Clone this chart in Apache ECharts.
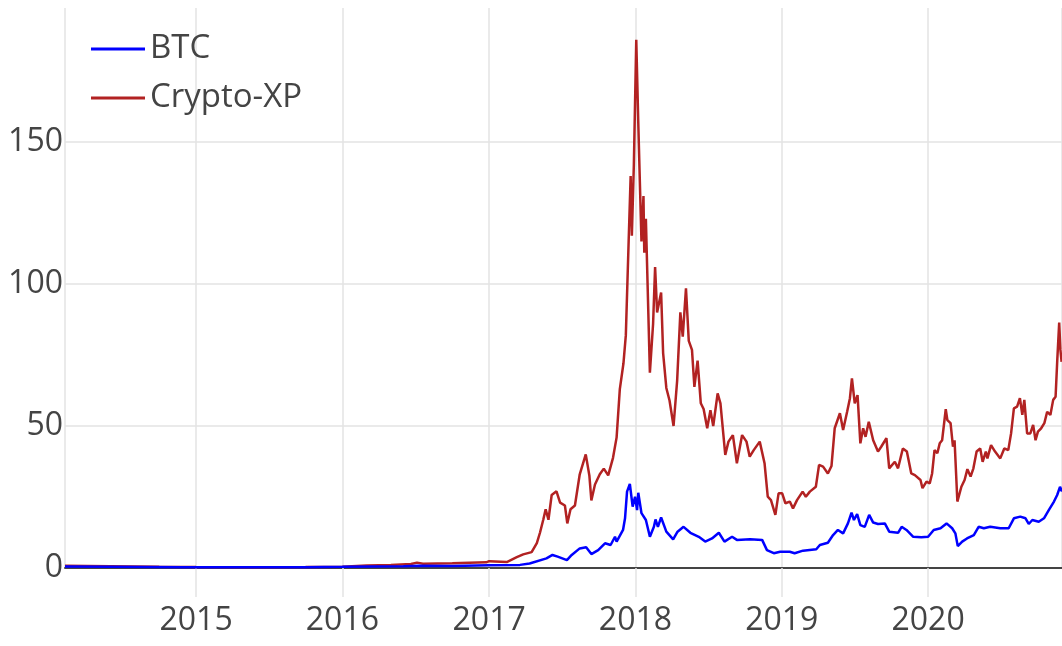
<!DOCTYPE html>
<html>
<head>
<meta charset="utf-8">
<script src="https://cdn.jsdelivr.net/npm/echarts@6/dist/echarts.min.js"></script>
<style>
  html, body { margin: 0; padding: 0; background: #fff; }
  #chart { width: 1062px; height: 646px; }
</style>
</head>
<body>
<div id="chart"></div>
<script>
// BTC price, scaled units
var btcDates = [
  '2014-02-08', '2014-06-01', '2014-12-01', '2015-06-01', '2015-10-01', '2016-01-01',
  '2016-06-01', '2016-07-10', '2016-10-01', '2017-01-01', '2017-03-19', '2017-04-12',
  '2017-05-24', '2017-06-08', '2017-06-21', '2017-07-14', '2017-07-26', '2017-08-15',
  '2017-08-31', '2017-09-13', '2017-09-30', '2017-10-17', '2017-10-31', '2017-11-11',
  '2017-11-15', '2017-12-01', '2017-12-06', '2017-12-11', '2017-12-18', '2017-12-25',
  '2017-12-31', '2018-01-05', '2018-01-08', '2018-01-16', '2018-01-27', '2018-02-06',
  '2018-02-16', '2018-02-20', '2018-02-26', '2018-03-06', '2018-03-19', '2018-04-05',
  '2018-04-16', '2018-05-01', '2018-05-18', '2018-06-08', '2018-06-24', '2018-07-11',
  '2018-07-28', '2018-08-11', '2018-08-30', '2018-09-11', '2018-10-14', '2018-11-13',
  '2018-11-25', '2018-12-12', '2018-12-28', '2019-01-21', '2019-02-02', '2019-02-23',
  '2019-03-28', '2019-04-06', '2019-04-26', '2019-05-09', '2019-05-21', '2019-06-03',
  '2019-06-15', '2019-06-24', '2019-06-30', '2019-07-08', '2019-07-16', '2019-07-27',
  '2019-08-07', '2019-08-17', '2019-08-29', '2019-09-15', '2019-09-26', '2019-10-18',
  '2019-10-27', '2019-11-08', '2019-11-25', '2019-12-15', '2020-01-01', '2020-01-15',
  '2020-02-01', '2020-02-16', '2020-03-01', '2020-03-09', '2020-03-15', '2020-03-26',
  '2020-04-07', '2020-04-24', '2020-05-06', '2020-05-19', '2020-06-04', '2020-06-29',
  '2020-07-20', '2020-08-02', '2020-08-18', '2020-08-31', '2020-09-08', '2020-09-17',
  '2020-10-03', '2020-10-16', '2020-10-28', '2020-11-10', '2020-11-18', '2020-11-25',
  '2020-11-30'
]
var btcValues = [
  0.5, 0.45, 0.3, 0.25, 0.3, 0.4,
  0.6, 0.8, 0.7, 1.0, 1.1, 1.6,
  3.4, 4.6, 4.0, 2.8, 4.6, 6.9,
  7.3, 4.9, 6.3, 8.7, 8.1, 11,
  9.3, 13.4, 17.5, 26.9, 29.6, 21.6,
  25.1, 20.4, 26.5, 19.3, 16.9, 11,
  14.5, 17.1, 14.5, 17.8, 12.8, 10.1,
  12.8, 14.5, 12.4, 11, 9.3, 10.4,
  12.4, 9.3, 11, 9.9, 10.1, 9.9,
  6.3, 5.2, 5.7, 5.7, 5.2, 6.1,
  6.6, 8.1, 8.9, 11.6, 13.4, 12.2,
  15.7, 19.5, 16.9, 19, 15.1, 14.5,
  18.7, 16, 15.5, 15.7, 12.8, 12.4,
  14.5, 13.4, 11, 10.8, 11.0, 13.4,
  14, 15.7, 14, 12.2, 7.7, 9.3,
  10.4, 11.6, 14.5, 14, 14.5, 14,
  14, 17.5, 18.1, 17.5, 15.5, 16.9,
  16.3, 17.5, 20.4, 23.4, 25.7, 28.6,
  26.9
]

// Crypto-XP index
var xpDates = [
  '2014-02-08', '2014-06-01', '2014-10-01', '2015-01-01', '2015-06-01', '2015-10-01',
  '2016-01-01', '2016-03-01', '2016-05-01', '2016-06-20', '2016-07-05', '2016-07-20',
  '2016-10-01', '2016-12-25', '2017-01-01', '2017-01-05', '2017-02-14', '2017-03-11',
  '2017-03-27', '2017-04-17', '2017-04-30', '2017-05-08', '2017-05-16', '2017-05-22',
  '2017-05-29', '2017-06-06', '2017-06-18', '2017-06-27', '2017-07-09', '2017-07-15',
  '2017-07-23', '2017-08-03', '2017-08-15', '2017-08-30', '2017-09-08', '2017-09-13',
  '2017-09-22', '2017-10-04', '2017-10-14', '2017-10-25', '2017-11-06', '2017-11-15',
  '2017-11-23', '2017-12-02', '2017-12-08', '2017-12-15', '2017-12-20', '2017-12-23',
  '2017-12-28', '2018-01-03', '2018-01-08', '2018-01-11', '2018-01-16', '2018-01-21',
  '2018-01-23', '2018-01-27', '2018-02-06', '2018-02-14', '2018-02-19', '2018-02-24',
  '2018-03-06', '2018-03-11', '2018-03-19', '2018-03-27', '2018-04-06', '2018-04-15',
  '2018-04-23', '2018-04-29', '2018-05-07', '2018-05-14', '2018-05-22', '2018-05-28',
  '2018-06-05', '2018-06-13', '2018-06-20', '2018-06-29', '2018-07-07', '2018-07-14',
  '2018-07-25', '2018-08-01', '2018-08-13', '2018-08-21', '2018-09-01', '2018-09-11',
  '2018-09-24', '2018-10-05', '2018-10-13', '2018-10-23', '2018-11-07', '2018-11-19',
  '2018-11-27', '2018-12-05', '2018-12-16', '2018-12-24', '2019-01-02', '2019-01-10',
  '2019-01-21', '2019-01-29', '2019-02-08', '2019-02-22', '2019-03-02', '2019-03-12',
  '2019-03-27', '2019-04-04', '2019-04-14', '2019-04-26', '2019-05-05', '2019-05-13',
  '2019-05-26', '2019-06-03', '2019-06-13', '2019-06-20', '2019-06-25', '2019-07-02',
  '2019-07-09', '2019-07-16', '2019-07-23', '2019-07-29', '2019-08-06', '2019-08-17',
  '2019-08-29', '2019-09-06', '2019-09-19', '2019-09-26', '2019-10-10', '2019-10-18',
  '2019-10-30', '2019-11-09', '2019-11-20', '2019-11-29', '2019-12-13', '2019-12-18',
  '2019-12-28', '2020-01-05', '2020-01-11', '2020-01-17', '2020-01-24', '2020-01-30',
  '2020-02-05', '2020-02-14', '2020-02-18', '2020-02-26', '2020-03-03', '2020-03-07',
  '2020-03-14', '2020-03-18', '2020-03-24', '2020-04-01', '2020-04-08', '2020-04-16',
  '2020-04-23', '2020-05-01', '2020-05-10', '2020-05-16', '2020-05-24', '2020-05-28',
  '2020-06-06', '2020-06-16', '2020-06-29', '2020-07-09', '2020-07-19', '2020-07-26',
  '2020-08-02', '2020-08-10', '2020-08-17', '2020-08-23', '2020-08-28', '2020-09-04',
  '2020-09-12', '2020-09-19', '2020-09-25', '2020-10-01', '2020-10-09', '2020-10-17',
  '2020-10-24', '2020-11-01', '2020-11-08', '2020-11-14', '2020-11-18', '2020-11-23',
  '2020-11-26', '2020-11-29'
]
var xpValues = [
  0.75, 0.6, 0.45, 0.35, 0.3, 0.35,
  0.45, 0.9, 1.1, 1.4, 1.9, 1.5,
  1.7, 2.0, 2.4, 1.9, 2.1, 3.8,
  4.8, 5.6, 8.8, 12.5, 17, 20.7,
  17, 25.7, 27, 23, 22, 15.7,
  20.7, 22, 33, 40, 32.6, 23.8,
  29.4, 33, 35, 32.6, 38.8, 46,
  63, 72, 82, 115, 138, 117,
  142, 186, 157, 141, 115, 131,
  111, 123, 68.8, 86, 106, 90,
  97, 75.7, 63.4, 59, 50, 66,
  90, 81.5, 98.5, 80, 76.8, 63.8,
  73, 58, 56, 49.2, 55.6, 50,
  61.5, 58, 39.8, 44.5, 46.8, 36.9,
  46.8, 44.5, 39.2, 41.5, 44.5, 36.9,
  25.1, 23.9, 18.7, 26.3, 26.3, 22.8,
  23.4, 21, 23.9, 26.9, 25.1, 26.9,
  28.6, 36.3, 35.7, 33.3, 35.9, 49.2,
  54.5, 48.6, 55, 59.8, 66.8, 58,
  60.9, 43.9, 49.2, 46.2, 51.5, 45,
  41, 42.7, 45.7, 35.1, 37.4, 35.1,
  42.1, 41, 33.3, 32.7, 31, 28.1,
  30.4, 29.8, 33.3, 41.5, 40.4, 43.9,
  45, 55.9, 52.1, 51, 42.7, 45,
  23.4, 23.9, 28.6, 31, 34.8, 32.2,
  35.1, 41, 42.1, 37.4, 41, 38.6,
  43.3, 41, 38.6, 42.1, 41.5, 47.4,
  56.2, 56.8, 59.8, 53.9, 59.2, 47.4,
  47.4, 50.4, 45, 48, 49.2, 51,
  55, 53.9, 59.2, 60.3, 72.6, 86.4,
  76.8, 72.6
]

var yTicks = [0, 50, 100, 150]

function pairs(dates, values) {
  return dates.map(function (d, i) { return [d, values[i]] })
}

var chart = echarts.init(document.getElementById('chart'), null, { renderer: 'canvas' })
var font = "'Open Sans', 'DejaVu Sans', sans-serif"

chart.setOption({
  animation: false,
  backgroundColor: '#fff',
  textStyle: { fontFamily: font },
  grid: { left: 65, right: 0, top: 8, bottom: 78, containLabel: false },
  legend: {
    left: 86,
    top: 26,
    orient: 'vertical',
    itemWidth: 54,
    itemHeight: 3,
    itemGap: 13,
    icon: 'rect',
    textStyle: { fontSize: 33, color: '#444', fontFamily: font, lineHeight: 36 },
    data: ['BTC', 'Crypto-XP']
  },
  xAxis: {
    type: 'time',
    min: '2014-02-08',
    max: '2020-11-30',
    splitNumber: 6,
    minInterval: 365 * 24 * 3600 * 1000,
    axisLine: { show: true, onZero: false, lineStyle: { color: '#444', width: 2 } },
    axisTick: { show: true, length: 29, lineStyle: { color: '#e3e3e3', width: 1.5 } },
    splitLine: { show: true, lineStyle: { color: '#e3e3e3', width: 1.5 } },
    axisLabel: {
      formatter: '{yyyy}',
      fontSize: 32,
      color: '#444',
      margin: 37,
      fontFamily: font,
      showMinLabel: false,
      showMaxLabel: false
    }
  },
  yAxis: {
    type: 'value',
    min: 0,
    max: 197.2,
    interval: 50,
    axisLine: { show: false },
    axisTick: { show: false },
    splitLine: { show: true, showMinLine: false, showMaxLine: false, lineStyle: { color: '#e3e3e3', width: 1.5 } },
    axisLabel: {
      fontSize: 32,
      color: '#444',
      margin: 2,
      fontFamily: font,
      showMaxLabel: false,
      formatter: function (v) { return yTicks.indexOf(v) >= 0 ? String(v) : '' }
    }
  },
  series: [
    {
      name: 'BTC',
      type: 'line',
      showSymbol: false,
      symbol: 'none',
      z: 3,
      itemStyle: { color: '#0000ff' },
      lineStyle: { color: '#0000ff', width: 2.5 },
      data: pairs(btcDates, btcValues)
    },
    {
      name: 'Crypto-XP',
      type: 'line',
      showSymbol: false,
      symbol: 'none',
      z: 2,
      itemStyle: { color: '#b22222' },
      lineStyle: { color: '#b22222', width: 2.5 },
      data: pairs(xpDates, xpValues)
    }
  ]
})
</script>
</body>
</html>
